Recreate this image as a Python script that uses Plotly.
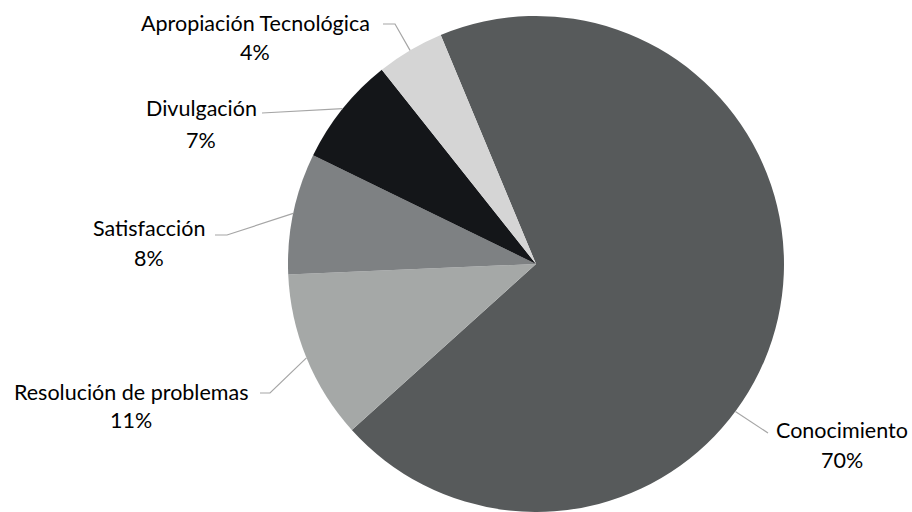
import math
import plotly.graph_objects as go

# ---- data ----
categories = ["Conocimiento", "Resolución de problemas", "Satisfacción", "Divulgación", "Apropiación Tecnológica"]
values = [69.6, 11.0, 7.9, 7.1, 4.4]
colors = ["#575a5b", "#a5a8a7", "#7e8183", "#141619", "#d5d5d5"]

# ---- layout constants (pixels) ----
W, H = 912, 512
CX, CY, R = 536, 264, 248
ROTATION = -22.6  # start of first slice, degrees clockwise from 12 o'clock

# label placement: name center, percent center, line start, elbow point, optional anchor angle override
label_layout = {
    "Apropiación Tecnológica": dict(name=(255, 23), pct=(255, 52), start=(383, 24), elbow=(395, 24), angle=None),
    "Divulgación": dict(name=(201, 108), pct=(201, 140), start=(262, 113), elbow=(262, 113), angle=None),
    "Satisfacción": dict(name=(149, 228), pct=(149, 258), start=(215, 235), elbow=(227, 235), angle=None),
    "Resolución de problemas": dict(name=(131, 392), pct=(131, 420), start=(260, 393), elbow=(270, 393), angle=None),
    "Conocimiento": dict(name=(842, 430), pct=(842, 460), start=(768, 433), elbow=(768, 433), angle=126.5),
}

FONT = "Lato"
FSIZE = 21.5
LEADER = "#a6a6a6"


def px(x):
    return x / W


def py(y):
    return 1 - y / H


fig = go.Figure(
    go.Pie(
        labels=categories,
        values=values,
        marker=dict(colors=colors, line=dict(width=0)),
        sort=False,
        direction="clockwise",
        rotation=ROTATION,
        textinfo="none",
        hoverinfo="label+percent",
        showlegend=False,
        domain=dict(x=[px(CX - R), px(CX + R)], y=[py(CY + R), py(CY - R)]),
    )
)

total = sum(values)
annotations = []
shapes = []
cum = 0.0
for cat, v in zip(categories, values):
    start_ang = ROTATION + cum / total * 360
    end_ang = ROTATION + (cum + v) / total * 360
    cum += v
    lay = label_layout[cat]
    ang = lay["angle"] if lay["angle"] is not None else (start_ang + end_ang) / 2
    a = math.radians(ang)
    ex = CX + R * math.sin(a)
    ey = CY - R * math.cos(a)
    pct = f"{round(v / total * 100)}%"
    annotations.append(dict(x=px(lay["name"][0]), y=py(lay["name"][1]), xref="paper", yref="paper",
                            text=cat, showarrow=False, xanchor="center", yanchor="middle",
                            font=dict(family=FONT, size=FSIZE, color="#000000")))
    annotations.append(dict(x=px(lay["pct"][0]), y=py(lay["pct"][1]), xref="paper", yref="paper",
                            text=pct, showarrow=False, xanchor="center", yanchor="middle",
                            font=dict(family=FONT, size=FSIZE, color="#000000")))
    sx, sy = lay["start"]
    bx, by = lay["elbow"]
    path = f"M {px(sx)} {py(sy)} L {px(bx)} {py(by)} L {px(ex)} {py(ey)}"
    shapes.append(dict(type="path", path=path, xref="paper", yref="paper",
                       line=dict(color=LEADER, width=1.2)))

fig.update_layout(
    width=W,
    height=H,
    margin=dict(l=0, r=0, t=0, b=0),
    paper_bgcolor="white",
    plot_bgcolor="white",
    annotations=annotations,
    shapes=shapes,
)

fig.write_html("out.html", config={"displayModeBar": False},
               post_script="document.body.style.margin='0';document.body.style.overflow='hidden';")
